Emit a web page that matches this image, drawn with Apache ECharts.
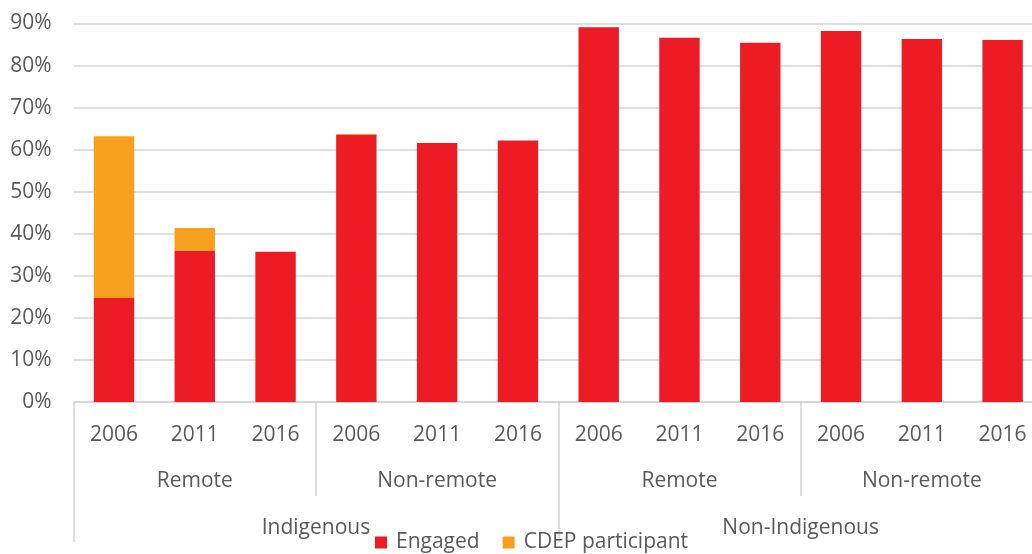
<!DOCTYPE html>
<html>
<head>
<meta charset="utf-8">
<script src="https://cdn.jsdelivr.net/npm/echarts@6/dist/echarts.min.js"></script>
<style>
html,body{margin:0;padding:0;background:#fff;overflow:hidden;width:1032px;height:554px;}
#chart{width:1043px;height:554px;}
</style>
</head>
<body>
<div id="chart"></div>
<script>
var years = ['2006','2011','2016','2006','2011','2016','2006','2011','2016','2006','2011','2016'];
var remoteness = ['Remote','Non-remote','Remote','Non-remote'];
var groups = ['Indigenous','Non-Indigenous'];
var engaged = [24.7, 36.0, 35.7, 63.5, 61.6, 62.2, 89.1, 86.6, 85.4, 88.2, 86.3, 86.1];
var cdep = [38.5, 5.4, 0, 0.2, 0, 0, 0, 0, 0, 0, 0, 0];
var yTicks = {min: 0, max: 90, interval: 10};

var FONT = 'Open Sans';
var TXT = '#595959';
var LINE = '#d4d4d4';
var FS = 21;

var chart = echarts.init(document.getElementById('chart'), null, {renderer: 'canvas'});
chart.setOption({
  animation: false,
  textStyle: {fontFamily: FONT},
  grid: {left: 73.6, right: 0, top: 23.5, bottom: 152, containLabel: false},
  legend: {
    data: ['Engaged', 'CDEP participant'],
    left: 370, top: 527,
    itemWidth: 12, itemHeight: 12, itemGap: 23,
    icon: 'rect',
    textStyle: {fontFamily: FONT, fontSize: FS, color: TXT, padding: [0, 0, 0, 4]}
  },
  xAxis: [
    {
      type: 'category', data: years, position: 'bottom',
      axisLine: {show: true, lineStyle: {color: LINE, width: 1.5}},
      axisTick: {show: false},
      axisLabel: {color: TXT, fontSize: FS, fontFamily: FONT, margin: 33, verticalAlign: 'middle', interval: 0}
    },
    {
      type: 'category', data: remoteness, position: 'bottom', gridIndex: 0,
      axisLine: {show: false},
      axisTick: {show: true, length: 94, interval: 0, lineStyle: {color: LINE, width: 1.5}},
      axisLabel: {color: TXT, fontSize: FS, fontFamily: FONT, margin: 79, verticalAlign: 'middle', interval: 0}
    },
    {
      type: 'category', data: groups, position: 'bottom', gridIndex: 0,
      axisLine: {show: false},
      axisTick: {show: true, length: 140, interval: 0, lineStyle: {color: LINE, width: 1.5}},
      axisLabel: {color: TXT, fontSize: FS, fontFamily: FONT, margin: 126, verticalAlign: 'middle', interval: 0}
    }
  ],
  yAxis: {
    type: 'value', min: yTicks.min, max: yTicks.max, interval: yTicks.interval,
    axisLine: {show: false}, axisTick: {show: false},
    splitLine: {lineStyle: {color: LINE, width: 1.5}},
    axisLabel: {color: TXT, fontSize: FS, fontFamily: FONT, margin: 22, formatter: '{value}%'}
  },
  series: [
    {
      name: 'Engaged', type: 'bar', stack: 'total', xAxisIndex: 0,
      data: engaged, barWidth: '50%',
      itemStyle: {color: '#ED1C24'}
    },
    {
      name: 'CDEP participant', type: 'bar', stack: 'total', xAxisIndex: 0,
      data: cdep, barWidth: '50%',
      itemStyle: {color: '#F7A01E'}
    }
  ]
});
</script>
</body>
</html>
